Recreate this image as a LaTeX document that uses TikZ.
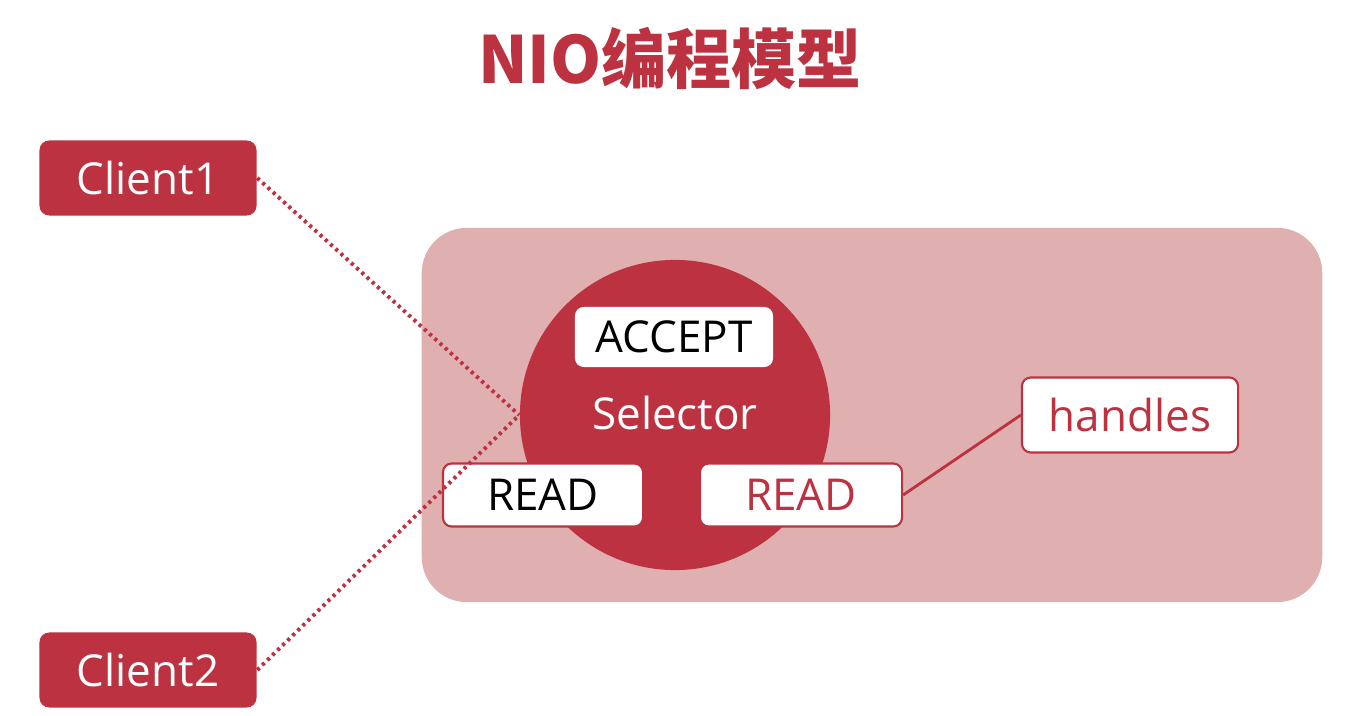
\documentclass[tikz,border=0pt]{standalone}
\usepackage{fontspec}
\setmainfont{Open Sans}
\newfontfamily\cjk{Noto Sans CJK SC}
\usepackage{xcolor}
\usetikzlibrary{positioning}
\definecolor{nioRed}{RGB}{188,50,64}
\definecolor{nioPink}{RGB}{224,176,176}

\begin{document}
\begin{tikzpicture}[x=0.01cm, y=-0.01cm,
	redbox/.style={fill=nioRed, text=white, rounded corners=8pt*0.35,
		minimum width=2.17cm, minimum height=0.75cm, font=\fontsize{12.5}{14}\selectfont},
	whitebox/.style={fill=white, draw=nioRed, line width=0.6pt, rounded corners=2.5pt,
		font=\fontsize{12.5}{14}\selectfont},
	link/.style={nioRed, line width=1.1pt, dash pattern=on 0.9pt off 1.1pt},
	handle/.style={nioRed, line width=0.8pt}]
			\useasboundingbox (0,0) rectangle (1370,716);
			\fill[white] (0,0) rectangle (1370,716);
			\node[text=nioRed, font=\cjk\bfseries\fontsize{18.5}{22}\selectfont] (title) at (670,58) {NIO编程模型};
			\node[redbox] (c1) at (148,178) {Client1};
			\node[redbox] (c2) at (148,670) {Client2};
			\node[fill=nioPink, rounded corners=0.45cm, minimum width=9cm, minimum height=3.74cm] (srv) at (872,415) {};
			\node[circle, fill=nioRed, minimum size=3.1cm] (sel) at (675,415) {};
			\node[text=white, font=\fontsize{12.5}{14}\selectfont] (seltext) at (675,413) {Selector};
			\node[whitebox, draw=none, minimum width=1.98cm, minimum height=0.6cm] (acc) at (674,337) {ACCEPT};
			\node[whitebox, minimum width=2cm, minimum height=0.63cm] (r1) at (543,495) {READ};
			\node[whitebox, text=nioRed, minimum width=2.02cm, minimum height=0.63cm] (r2) at (801,495) {READ};
			\node[whitebox, text=nioRed, minimum width=2.16cm, minimum height=0.75cm] (hd) at (1130,415) {handles};
			\draw[handle] (r2.east) -- (hd.west);
			\draw[link] (c1.east) -- (sel.west);
			\draw[link] (c2.east) -- (sel.west);
		\end{tikzpicture}
\end{document}
